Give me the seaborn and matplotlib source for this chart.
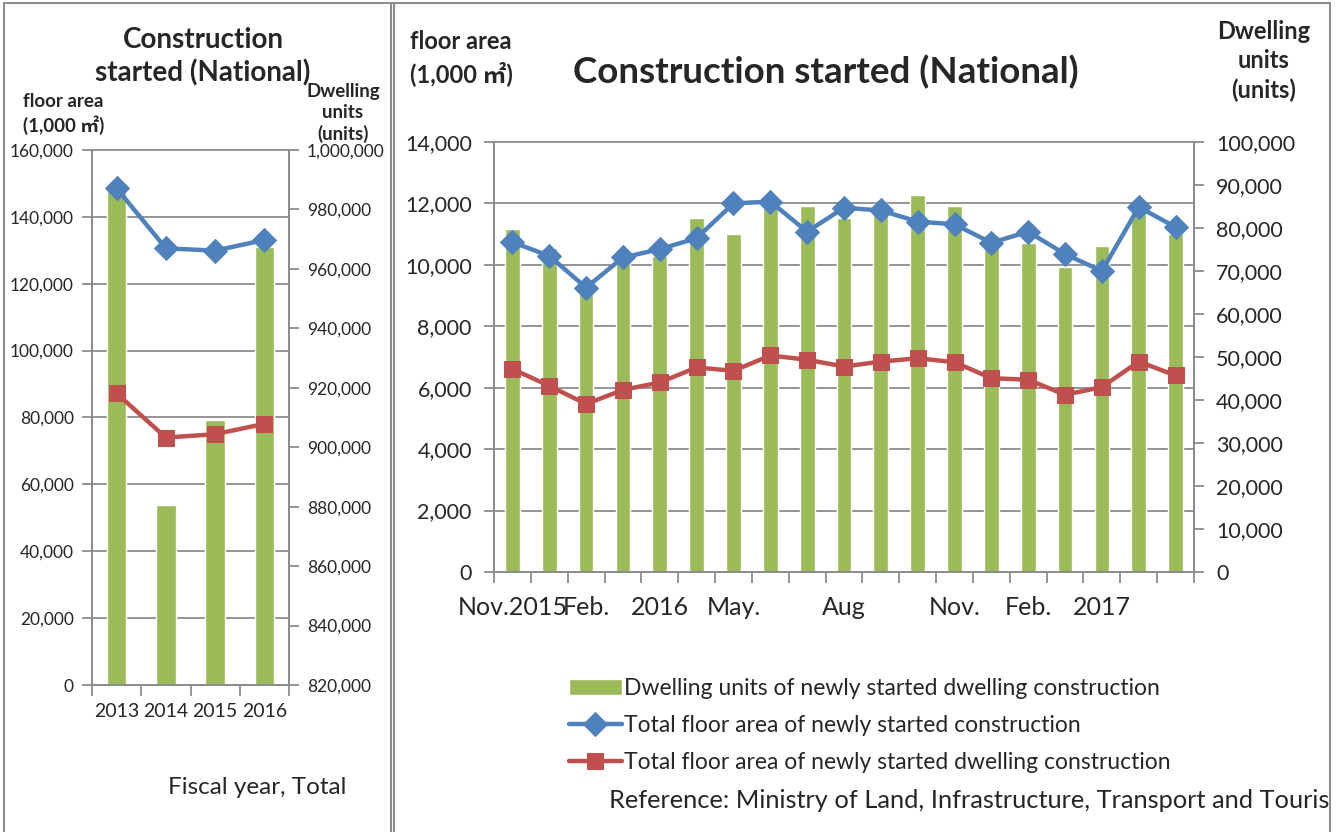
import numpy as np
import pandas as pd
import seaborn as sns
import matplotlib.pyplot as plt
from matplotlib import transforms
from matplotlib.patches import Rectangle
from matplotlib.lines import Line2D
from matplotlib.ticker import FuncFormatter, MultipleLocator

# ---- data: fiscal year totals (left panel) ----
fy_labels = ['2013', '2014', '2015', '2016']
fy_units = [987100, 880400, 909200, 967300]          # dwelling units (right axis)
fy_total_area = [148550, 130600, 129900, 133100]     # total floor area, 1,000 m2
fy_dwelling_area = [87200, 74000, 75000, 78100]      # dwelling floor area, 1,000 m2

# ---- data: monthly Nov.2015 - May 2017 (right panel) ----
month_labels = ['Nov.2015', '', 'Feb.', '', '2016', '', 'May.', '', '', 'Aug',
                '', '', 'Nov.', '', 'Feb.', '', '2017', '', '']
month_units = [79700, 75400, 66000, 72000, 73500, 82300, 78700, 85400, 85100, 82300,
               85600, 87700, 85100, 78400, 76500, 71000, 75900, 84000, 78500]
month_total_area = [10740, 10290, 9260, 10240, 10510, 10870, 12000, 12060, 11080, 11860,
                    11770, 11410, 11320, 10720, 11080, 10350, 9800, 11880, 11230]
month_dwelling_area = [6610, 6060, 5470, 5930, 6170, 6660, 6550, 7050, 6910, 6690,
                       6850, 6960, 6830, 6310, 6260, 5770, 6020, 6850, 6400]

series_names = ['Dwelling units of newly started dwelling construction',
                'Total floor area of newly started construction',
                'Total floor area of newly started dwelling construction']

GREEN = '#9BBB59'
BLUE = '#4F81BD'
RED = '#C0504D'
GRID = '#8C8C8C'

sns.set_theme(style='white')
plt.rcParams['font.family'] = ['Lato', 'Noto Sans CJK JP', 'DejaVu Sans']
plt.rcParams['axes.unicode_minus'] = False

W, H = 1341, 832
fig = plt.figure(figsize=(W / 100, H / 100), dpi=100)


def fx(px):
    return px / W


def fy(py):
    return 1 - py / H


comma = FuncFormatter(lambda v, _: f'{v:,.0f}')


def panel(rect, labels, units, total, dwelling, area_lim, area_step,
          unit_lim, unit_step, tick_fs, ypad, xlab_fs, xpad, msize):
    n = len(labels)
    ax_bar = fig.add_axes(rect)
    df = pd.DataFrame({'pos': np.arange(n), 'units': units,
                       'total': total, 'dwelling': dwelling})
    sns.barplot(data=df, x='pos', y='units', color=GREEN, width=0.4,
                saturation=1, ax=ax_bar, label=series_names[0], zorder=2)

    ax_line = ax_bar.twinx()
    sns.lineplot(data=df, x='pos', y='total', color=BLUE, lw=3.2, marker='D',
                 markersize=msize, markeredgecolor=BLUE, ax=ax_line,
                 label=series_names[1])
    sns.lineplot(data=df, x='pos', y='dwelling', color=RED, lw=3.2, marker='s',
                 markersize=msize - 1, markeredgecolor=RED, ax=ax_line,
                 label=series_names[2])

    # bars -> right axis, floor area -> left axis
    ax_bar.yaxis.tick_right()
    ax_line.yaxis.tick_left()
    ax_bar.set_ylim(*unit_lim)
    ax_bar.yaxis.set_major_locator(MultipleLocator(unit_step))
    ax_bar.yaxis.set_major_formatter(comma)
    ax_line.set_ylim(*area_lim)
    ax_line.yaxis.set_major_locator(MultipleLocator(area_step))
    ax_line.yaxis.set_major_formatter(comma)

    # gridlines for the floor-area ticks, drawn behind the bars
    tr = transforms.blended_transform_factory(ax_bar.transAxes, ax_line.transData)
    for v in np.arange(area_lim[0] + area_step, area_lim[1] + 1, area_step):
        ax_bar.plot([0, 1], [v, v], transform=tr, color=GRID, lw=1.3, zorder=0,
                    clip_on=False)

    ax_bar.set_xlim(-0.5, n - 0.5)
    ax_bar.set_xticks(np.arange(n + 1) - 0.5, labels=[])
    ax_bar.set_xticks(np.arange(n), labels=labels, minor=True)
    ax_bar.tick_params(axis='x', which='major', length=8, width=1.3, color=GRID,
                       direction='out', bottom=True)
    ax_bar.tick_params(axis='x', which='minor', length=0, pad=xpad,
                       labelsize=xlab_fs, bottom=True)
    for a in (ax_bar, ax_line):
        a.tick_params(axis='y', length=7, width=1.3, color=GRID, direction='out',
                      labelsize=tick_fs, pad=ypad)
        a.set_xlabel('')
        a.set_ylabel('')
        if a.get_legend() is not None:
            a.get_legend().remove()
        for s in a.spines.values():
            s.set_color(GRID)
            s.set_linewidth(1.3)
        a.spines['top'].set_visible(False)
    ax_line.set_xlim(-0.5, n - 0.5)
    return ax_bar, ax_line


# left panel: fiscal year totals
lb, ll = panel([fx(92), fy(685), fx(289) - fx(92), fy(150) - fy(685)],
               fy_labels, fy_units, fy_total_area, fy_dwelling_area,
               (0, 160000), 20000, (820000, 1000000), 20000, 12.5, 6, 14, 13, 12)

# right panel: monthly
rb, rl = panel([fx(494), fy(572), fx(1194) - fx(494), fy(142) - fy(572)],
               month_labels, month_units, month_total_area, month_dwelling_area,
               (0, 14000), 2000, (0, 100000), 10000, 15.5, 9, 18, 17, 12)

# texts
fig.text(fx(203), fy(57), 'Construction\nstarted (National)', ha='center', va='center',
         fontsize=20, fontweight='bold', linespacing=1.3)
fig.text(fx(23), fy(114), 'floor area\n(1,000 ㎡)', ha='left', va='center',
         fontsize=13.5, fontweight='bold', linespacing=1.35)
fig.text(fx(343), fy(113), 'Dwelling\nunits\n(units)', ha='center', va='center',
         fontsize=13.5, fontweight='bold', linespacing=1.25)
fig.text(fx(257), fy(787), 'Fiscal year, Total', ha='center', va='center', fontsize=17.5)

fig.text(fx(410), fy(58), 'floor area\n(1,000 ㎡)', ha='left', va='center',
         fontsize=17, fontweight='bold', linespacing=1.35)
fig.text(fx(826), fy(72), 'Construction started (National)', ha='center', va='center',
         fontsize=26.5, fontweight='bold')
fig.text(fx(1264), fy(61), 'Dwelling\nunits\n(units)', ha='center', va='center',
         fontsize=17, fontweight='bold', linespacing=1.32)
fig.text(fx(609), fy(800), 'Reference: Ministry of Land, Infrastructure, Transport and Tourism',
         ha='left', va='center', fontsize=18.3)

# legend
h1, l1 = rb.get_legend_handles_labels()
h2, l2 = rl.get_legend_handles_labels()
fig.legend(h1[:1] + h2[:2], l1[:1] + l2[:2], loc='upper left',
           bbox_to_anchor=(fx(569), fy(678)), frameon=False, fontsize=16.5,
           handlelength=2.3, handleheight=0.7, handletextpad=0.12, labelspacing=0.7,
           borderaxespad=0, borderpad=0)

# mask beyond right frame, then panel frames
fig.add_artist(Rectangle((fx(1331), 0), 1 - fx(1331), 1, transform=fig.transFigure,
                         facecolor='white', edgecolor='none', zorder=10))
for x in (4, 391, 394, 1330):
    fig.add_artist(Line2D([fx(x), fx(x)], [0, fy(3)], color=GRID, lw=1.5, zorder=11))
fig.add_artist(Line2D([fx(4), fx(1330)], [fy(3), fy(3)], color=GRID, lw=1.5, zorder=11))

fig.savefig('out.png', dpi=100, facecolor='white')
